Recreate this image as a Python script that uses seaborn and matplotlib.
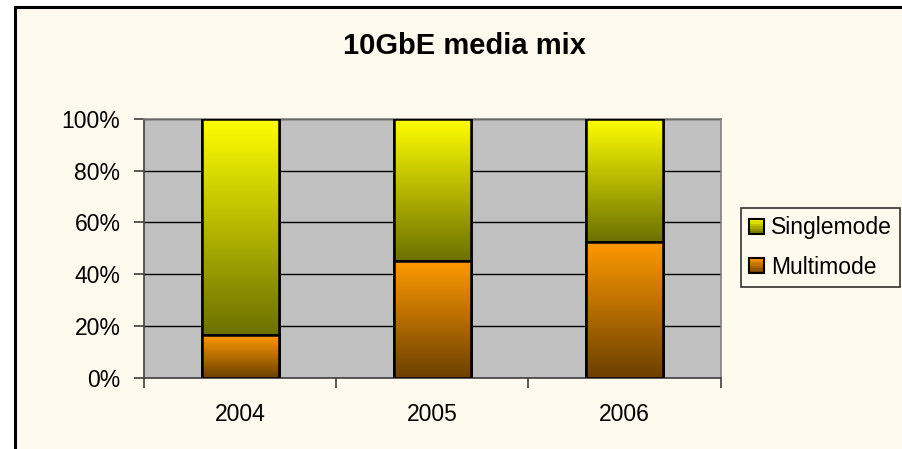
import numpy as np
import pandas as pd
import matplotlib
matplotlib.use("Agg")
import matplotlib.pyplot as plt
import seaborn as sns
from matplotlib.colors import LinearSegmentedColormap
from matplotlib.patches import Rectangle
from matplotlib.legend_handler import HandlerBase

years = ["2004", "2005", "2006"]
multimode = [16.5, 45.0, 52.3]
singlemode = [83.5, 55.0, 47.7]
series = ["Singlemode", "Multimode"]
yticks = [0, 20, 40, 60, 80, 100]
title = "10GbE media mix"

sns.set_theme(style="white")
plt.rcParams["font.family"] = ["Liberation Sans", "DejaVu Sans"]
plt.rcParams["text.color"] = "black"
plt.rcParams["xtick.color"] = "black"
plt.rcParams["ytick.color"] = "black"

BG = "#FFF9EE"
PLOT_BG = "#C0C0C0"
cmaps = {
    "Singlemode": LinearSegmentedColormap.from_list("s", ["#6C7000", "#FFFF00"]),
    "Multimode": LinearSegmentedColormap.from_list("m", ["#6B4000", "#FF9900"]),
}

fig = plt.figure(figsize=(9.02, 4.49), dpi=100, facecolor="white")
# chart area with border
fig.patches.append(Rectangle((15 / 902, -0.1), 1.2, (449 - 7) / 449 + 0.1,
                             transform=fig.transFigure, facecolor=BG,
                             edgecolor="black", linewidth=2.2, zorder=-5))

ax = fig.add_axes([144 / 902, (449 - 377.7) / 449, (720.5 - 144) / 902, 258.7 / 449])
ax.set_zorder(2)
ax.set_facecolor(PLOT_BG)

df = pd.DataFrame({"year": years, "total": [m + s for m, s in zip(multimode, singlemode)],
                   "multi": multimode})
sns.barplot(data=df, x="year", y="total", color="#FFFF00", width=0.4,
            edgecolor="black", linewidth=1.8, ax=ax, zorder=3)
sns.barplot(data=df, x="year", y="multi", color="#FF9900", width=0.4,
            edgecolor="black", linewidth=1.8, ax=ax, zorder=4)

patches = list(ax.patches)
n = len(years)
grad = np.linspace(0, 1, 256).reshape(-1, 1)
for i, p in enumerate(patches):
    name = "Singlemode" if i < n else "Multimode"
    x0, y0 = p.get_x(), p.get_y()
    w, h = p.get_width(), p.get_height()
    if i < n:
        y0 = multimode[i]
        h = singlemode[i]
    ax.imshow(grad, cmap=cmaps[name], aspect="auto", origin="lower",
              extent=(x0, x0 + w, y0, y0 + h), zorder=p.get_zorder() + 0.1,
              interpolation="bilinear")
    edge = Rectangle((x0, y0), w, h, fill=False, edgecolor="black",
                     linewidth=1.8, zorder=p.get_zorder() + 0.2)
    ax.add_patch(edge)

ax.set_xlim(-0.5, n - 0.5)
ax.set_ylim(0, 100)
ax.set_yticks(yticks)
ax.set_yticklabels([f"{t}%" for t in yticks])
ax.yaxis.grid(True, color="black", linewidth=1.0, zorder=1)
ax.set_axisbelow(True)
ax.set_xlabel("")
ax.set_ylabel("")
ax.set_xticks(range(n))
ax.set_xticklabels(years)
ax.set_xticks(np.arange(-0.5, n, 1.0), minor=True)
ax.tick_params(axis="x", which="major", length=0, pad=18, labelsize=16.5, labelcolor="black")
ax.tick_params(axis="x", which="minor", length=7, width=1.2, color="#404040", direction="out",
               bottom=True)
ax.tick_params(axis="y", length=7, width=1.2, color="#404040", direction="out",
               labelsize=16.5, pad=10, left=True, labelcolor="black")
for s in ["top", "right"]:
    ax.spines[s].set_color("#808080")
    ax.spines[s].set_linewidth(1.2)
for s in ["left", "bottom"]:
    ax.spines[s].set_color("#404040")
    ax.spines[s].set_linewidth(1.2)

fig.text(464.5 / 902, 1 - 54 / 449, title, ha="center", va="baseline",
         fontsize=21, fontweight="bold", color="black")


class GradHandler(HandlerBase):
    def create_artists(self, legend, orig_handle, xdescent, ydescent, width, height, fontsize, trans):
        s = 10.5
        x = xdescent
        y = ydescent + (height - s) / 2
        name = orig_handle.get_label()
        cm = cmaps[name]
        arts = []
        k = 6
        for j in range(k):
            r = Rectangle((x, y + j * s / k), s, s / k + 0.3, facecolor=cm((j + 0.5) / k),
                          edgecolor="none", transform=trans)
            arts.append(r)
        arts.append(Rectangle((x, y), s, s, fill=False, edgecolor="black", linewidth=1.5,
                              transform=trans))
        return arts


handles = [Rectangle((0, 0), 1, 1, label=nm) for nm in series]
leg = fig.legend(handles=handles, labels=series, handler_map={Rectangle: GradHandler()},
                 loc="upper left", bbox_to_anchor=(741 / 902, 1 - 208 / 449),
                 frameon=True, fancybox=False, fontsize=16.5, handlelength=0.75,
                 handletextpad=0.2, borderpad=0.36, labelspacing=0.72,
                 borderaxespad=0, facecolor=BG, edgecolor="black")
leg.get_frame().set_linewidth(1.2)
for t in leg.get_texts():
    t.set_color("black")

fig.savefig("out.png", dpi=100, facecolor="white")
